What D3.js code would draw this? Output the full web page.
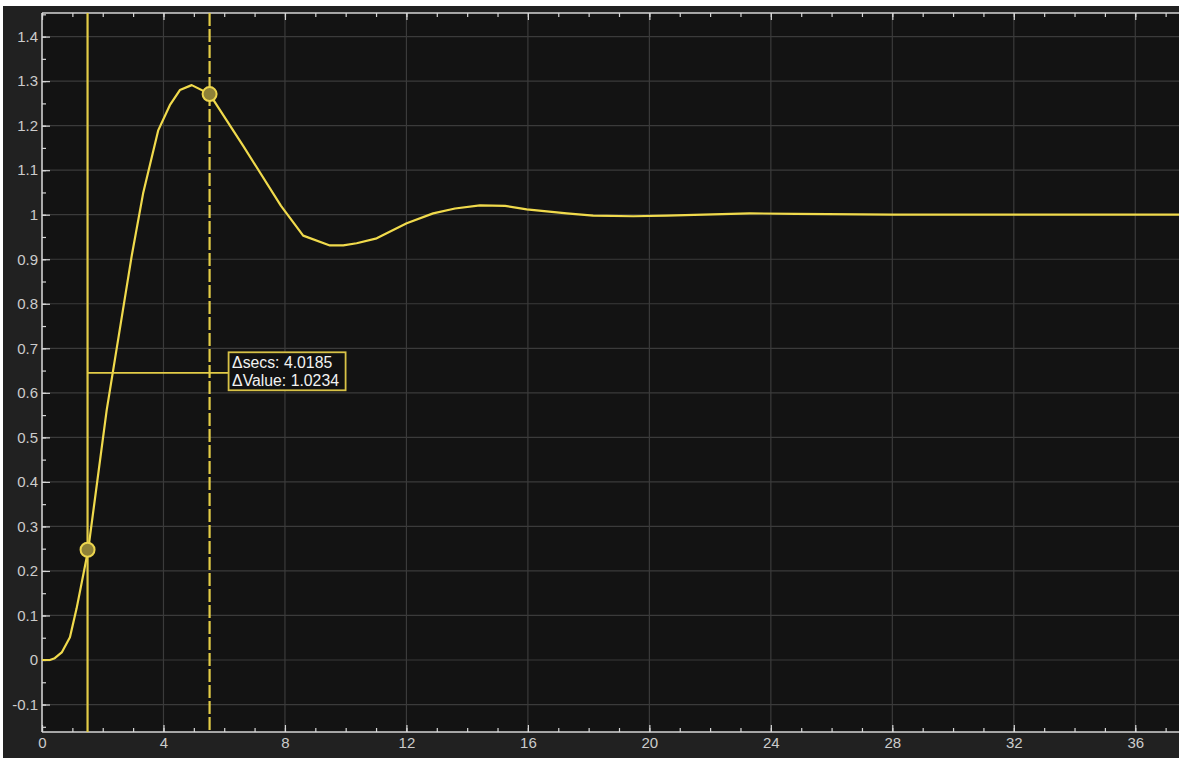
<!DOCTYPE html>
<html>
<head>
<meta charset="utf-8">
<script src="https://cdn.jsdelivr.net/npm/d3@7"></script>
<style>
html,body{margin:0;padding:0;background:#ffffff;overflow:hidden;}
svg{display:block;}
</style>
</head>
<body>
<svg id="chart" width="1179" height="758"></svg>
<script>
// ---- data ----
const timeSecs = [0, 0.26, 0.42, 0.65, 0.92, 1.14, 1.52, 2.13, 2.95, 3.33, 3.83, 4.21, 4.54, 4.93, 5.52, 6.63, 7.87, 8.6, 9.48, 9.92, 10.36, 11.02, 12.01, 12.88, 13.6, 14.42, 15.25, 15.96, 17.28, 18.15, 19.47, 20.57, 23.3, 24.8, 28.0, 32.0, 37.5];
const stepValue = [0, 0, 0.004, 0.017, 0.051, 0.116, 0.247, 0.561, 0.906, 1.048, 1.19, 1.246, 1.28, 1.291, 1.271, 1.154, 1.02, 0.953, 0.931, 0.931, 0.936, 0.947, 0.981, 1.003, 1.014, 1.021, 1.02, 1.012, 1.003, 0.998, 0.9965, 0.998, 1.003, 1.002, 1.0, 1.0, 1.0];
const xMajorTicks = [0, 4, 8, 12, 16, 20, 24, 28, 32, 36];
const xMinorTicks = d3.range(0, 38, 1);
const yMajorTicks = [-0.1, 0, 0.1, 0.2, 0.3, 0.4, 0.5, 0.6, 0.7, 0.8, 0.9, 1, 1.1, 1.2, 1.3, 1.4];
const yMinorTicks = d3.range(-3, 30).map(i => i * 0.05);
const cursorTimes = [1.5, 5.5185];
const cursorValues = [0.2476, 1.2710];
const deltaLevel = 0.645;
const deltaLabels = ["\u0394secs: 4.0185", "\u0394Value: 1.0234"];

// ---- layout ----
const W = 1179, H = 758;
const pLeft = 42, pTop = 13, pRight = 1179, pBottom = 732;
const svg = d3.select("#chart");

svg.append("rect").attr("x", 3).attr("y", 6).attr("width", W - 3).attr("height", H - 6).attr("fill", "#212121");
svg.append("rect").attr("x", pLeft).attr("y", pTop).attr("width", pRight - pLeft).attr("height", pBottom - pTop).attr("fill", "#131313");

const x = d3.scaleLinear().domain([0, 37.44]).range([pLeft, pRight]);
const y = d3.scaleLinear().domain([-0.1617, 1.453]).range([pBottom, pTop]);

const font = "'Liberation Sans', Arial, sans-serif";

// grid
const grid = svg.append("g");
grid.selectAll("line.gx").data(xMajorTicks).join("line").attr("class", "gx")
  .attr("x1", d => x(d)).attr("x2", d => x(d)).attr("y1", pTop).attr("y2", pBottom)
  .attr("stroke", "#3b3b3b").attr("stroke-width", 1.2);
grid.selectAll("line.gy").data(yMajorTicks).join("line").attr("class", "gy")
  .attr("y1", d => y(d)).attr("y2", d => y(d)).attr("x1", pLeft).attr("x2", pRight)
  .attr("stroke", "#3b3b3b").attr("stroke-width", 1.2);

function styleAxis(g) {
  g.select(".domain").remove();
  g.selectAll(".tick line").attr("stroke", "#d6d6d6").attr("stroke-width", 1.2);
  g.selectAll(".tick text").attr("fill", "#cccccc").style("font-family", font).style("font-size", "15px");
}

// bottom axis
svg.append("g").attr("transform", `translate(0,${pBottom})`)
  .call(d3.axisBottom(x).tickValues(xMinorTicks).tickSize(-4).tickFormat(""))
  .call(styleAxis);
svg.append("g").attr("transform", `translate(0,${pBottom})`)
  .call(d3.axisBottom(x).tickValues(xMajorTicks).tickSize(-7).tickPadding(5).tickFormat(d3.format("d")))
  .call(styleAxis);
// top axis
svg.append("g").attr("transform", `translate(0,${pTop})`)
  .call(d3.axisTop(x).tickValues(xMinorTicks).tickSize(-4).tickFormat(""))
  .call(styleAxis);
svg.append("g").attr("transform", `translate(0,${pTop})`)
  .call(d3.axisTop(x).tickValues(xMajorTicks).tickSize(-7).tickFormat(""))
  .call(styleAxis);
// left axis
svg.append("g").attr("transform", `translate(${pLeft},0)`)
  .call(d3.axisLeft(y).tickValues(yMinorTicks).tickSize(-4).tickFormat(""))
  .call(styleAxis);
svg.append("g").attr("transform", `translate(${pLeft},0)`)
  .call(d3.axisLeft(y).tickValues(yMajorTicks).tickSize(-8).tickPadding(4).tickFormat(d => String(+d.toFixed(2))))
  .call(styleAxis);

// axis lines
svg.append("line").attr("x1", pLeft).attr("x2", pRight).attr("y1", pTop).attr("y2", pTop).attr("stroke", "#d6d6d6").attr("stroke-width", 1.5);
svg.append("line").attr("x1", pLeft).attr("x2", pRight).attr("y1", pBottom).attr("y2", pBottom).attr("stroke", "#d6d6d6").attr("stroke-width", 1.5);
svg.append("line").attr("x1", pLeft).attr("x2", pLeft).attr("y1", pTop).attr("y2", pBottom).attr("stroke", "#d6d6d6").attr("stroke-width", 1.5);

// curve
const pts = timeSecs.map((t, i) => [t, stepValue[i]]);
svg.append("path").datum(pts)
  .attr("d", d3.line().x(d => x(d[0])).y(d => y(d[1])))
  .attr("fill", "none").attr("stroke", "#f0da4c").attr("stroke-width", 2.2).attr("stroke-linejoin", "round");

// cursors
const cursorColor = "#e3cc47";
svg.append("line").attr("x1", x(cursorTimes[0])).attr("x2", x(cursorTimes[0])).attr("y1", pTop).attr("y2", pBottom)
  .attr("stroke", cursorColor).attr("stroke-width", 2.2);
svg.append("line").attr("x1", x(cursorTimes[1])).attr("x2", x(cursorTimes[1])).attr("y1", pTop).attr("y2", pBottom)
  .attr("stroke", cursorColor).attr("stroke-width", 2.2).attr("stroke-dasharray", "13,3");

// delta line and box
const boxX = x(cursorTimes[1]) + 19;
const boxY = y(deltaLevel) - 20.5;
svg.append("line").attr("x1", x(cursorTimes[0])).attr("x2", boxX).attr("y1", y(deltaLevel)).attr("y2", y(deltaLevel))
  .attr("stroke", cursorColor).attr("stroke-width", 1.8);
svg.append("rect").attr("x", boxX).attr("y", boxY).attr("width", 117).attr("height", 38)
  .attr("fill", "#111111").attr("stroke", "#d8c247").attr("stroke-width", 1.8);
svg.append("g").selectAll("text").data(deltaLabels).join("text")
  .attr("x", boxX + 3.5).attr("y", (d, i) => boxY + 15.5 + i * 18.5)
  .attr("fill", "#f2f2f2").style("font-family", font).style("font-size", "15.8px")
  .text(d => d);

// markers
svg.append("g").selectAll("circle").data(cursorTimes).join("circle")
  .attr("cx", d => x(d)).attr("cy", (d, i) => y(cursorValues[i])).attr("r", 7)
  .attr("fill", "#8e8138").attr("stroke", "#ecd54e").attr("stroke-width", 2);
</script>
</body>
</html>
